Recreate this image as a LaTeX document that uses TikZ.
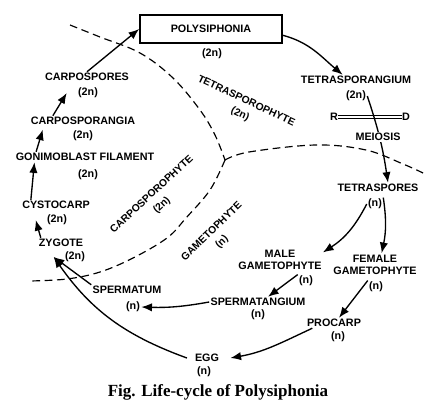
\documentclass[tikz,border=0pt]{standalone}
\usepackage{fontspec}
\setmainfont{Liberation Serif}
\setsansfont{Liberation Sans}
\usepackage{tikz}
\usetikzlibrary{arrows.meta,positioning,calc}
\tikzset{
  stage/.style={font=\sffamily\bfseries\fontsize{9.2}{10.5}\selectfont, align=center, inner sep=1pt},
  ploidy/.style={stage},
  phase/.style={stage, font=\sffamily\bfseries\fontsize{8.8}{10.5}\selectfont},
  titlebox/.style={draw, line width=1.4pt, minimum width=4.26cm, minimum height=0.84cm, stage},
  line/.style={-{Latex[length=3.2mm,width=2.5mm]}, line width=1.15pt},
  divide/.style={dash pattern=on 2.3mm off 1.4mm, line width=1pt},
  bar/.style={double, double distance=1.6pt, line width=0.6pt},
  caption/.style={font=\rmfamily\bfseries\fontsize{14.5}{16}\selectfont, inner sep=0pt}
}

\begin{document}
\begin{tikzpicture}[x=0.03cm, y=0.03cm]
  \useasboundingbox (0,0) rectangle (432,-403);

  \draw[divide] plot[smooth, tension=0.6] coordinates {(70,-25) (100,-37) (140,-53) (173,-78) (200,-110) (215,-135) (225,-160)};
  \draw[divide] plot[smooth, tension=0.6] coordinates {(225,-160) (210,-190) (186,-218) (167,-238) (133,-258) (100,-272) (67,-279) (30,-281)};
  \draw[divide] plot[smooth, tension=0.6] coordinates {(225,-160) (249,-152) (316,-145) (366,-150) (403,-164) (423,-173)};

  \node[titlebox] (poly) at (211,-29) {POLYSIPHONIA};
  \node[ploidy] (polyn) at (212,-54) {(2n)};
  \node[stage] (tsporangium) at (356,-80) {TETRASPORANGIUM};
  \node[ploidy] (tsporangiumn) at (356,-96) {(2n)};
  \node[stage, inner sep=0.3pt] (rbar) at (334,-117) {R};
  \node[stage, inner sep=0.3pt] (dbar) at (406,-117) {D};
  \node[stage] (tspores) at (378,-188) {TETRASPORES};
  \node[ploidy] (tsporesn) at (375,-204) {(n)};
  \node[stage] (female) at (375,-264.5) {FEMALE\\GAMETOPHYTE};
  \node[ploidy] (femalen) at (376,-287) {(n)};
  \node[stage] (male) at (280,-260) {MALE\\GAMETOPHYTE};
  \node[ploidy] (malen) at (306,-281) {(n)};
  \node[stage] (sptangium) at (258,-302) {SPERMATANGIUM};
  \node[ploidy] (sptangiumn) at (258,-315) {(n)};
  \node[stage] (procarp) at (334,-323) {PROCARP};
  \node[ploidy] (procarpn) at (338,-337) {(n)};
  \node[stage] (egg) at (207,-358) {EGG};
  \node[ploidy] (eggn) at (204,-372) {(n)};
  \node[stage] (spermatum) at (127,-290) {SPERMATUM};
  \node[ploidy] (spermatumn) at (133,-307) {(n)};
  \node[stage] (zygote) at (61,-243) {ZYGOTE};
  \node[ploidy] (zygoten) at (75,-257) {(2n)};
  \node[stage] (cystocarp) at (56,-205) {CYSTOCARP};
  \node[ploidy] (cystocarpn) at (57,-220) {(2n)};
  \node[stage] (gonimo) at (85,-157) {GONIMOBLAST FILAMENT};
  \node[ploidy] (gonimon) at (88,-175) {(2n)};
  \node[stage] (csporangia) at (83,-121) {CARPOSPORANGIA};
  \node[ploidy] (csporangian) at (83,-136) {(2n)};
  \node[stage] (cspores) at (87,-77) {CARPOSPORES};
  \node[ploidy] (csporesn) at (88,-93) {(2n)};

  \node[phase, rotate=-25] (tsph) at (243,-108) {TETRASPOROPHYTE\\[2pt](2n)};
  \node[phase, rotate=43] (csph) at (157,-200) {CARPOSPOROPHYTE\\[2pt](2n)};
  \node[phase, rotate=44] (gph) at (217,-237) {GAMETOPHYTE\\[2pt](n)};

  \draw[line] (cspores.north) -- (poly.west);
  \draw[line] (poly.-5) to[out=-15,in=140] ([xshift=-4mm]tsporangium.north);
  \draw[bar] (rbar.east) -- (dbar.west);
  \draw[line] (tsporangiumn.east) to[bend left=5] ([xshift=3mm]tspores.north);
  \node[stage, fill=white] (meiosis) at (378,-137) {MEIOSIS};
  \draw[line] (tsporesn.north east) to[bend left=10] ([xshift=2mm]female.north);
  \draw[line] (tsporesn.west) to[bend left=15] (male.10);
  \draw[line] (malen.north west) -- ([xshift=3mm]sptangium.north);
  \draw[line] (femalen.north west) -- ([xshift=1.5mm]procarp.north);
  \draw[line] ([xshift=2mm]procarp.south west) to[out=205,in=10] ([xshift=3mm]egg.east);
  \draw[line] (sptangium.west) to[bend left=6] (spermatumn.east);
  \draw[line] (spermatum.north west) -- ([xshift=-3mm]zygoten.west);
  \draw[line] ([xshift=-2mm]egg.west) to[out=160,in=-55] ([xshift=-3mm]zygoten.west);
  \draw[line] ([xshift=1mm]zygote.north west) -- ([xshift=-3mm]cystocarpn.west);
  \draw[line] ([xshift=3mm]cystocarp.north west) -- ([xshift=6mm]gonimo.south west);
  \draw[line] ([xshift=6.5mm]gonimo.north west) -- ([xshift=4mm,yshift=-1mm]csporangia.south west);
  \draw[line] ([xshift=7mm]csporangia.north west) -- ([xshift=-3mm]csporesn.west);

  \node[caption] (fig) at (218,-392) {Fig. Life-cycle of Polysiphonia};
\end{tikzpicture}
\end{document}
